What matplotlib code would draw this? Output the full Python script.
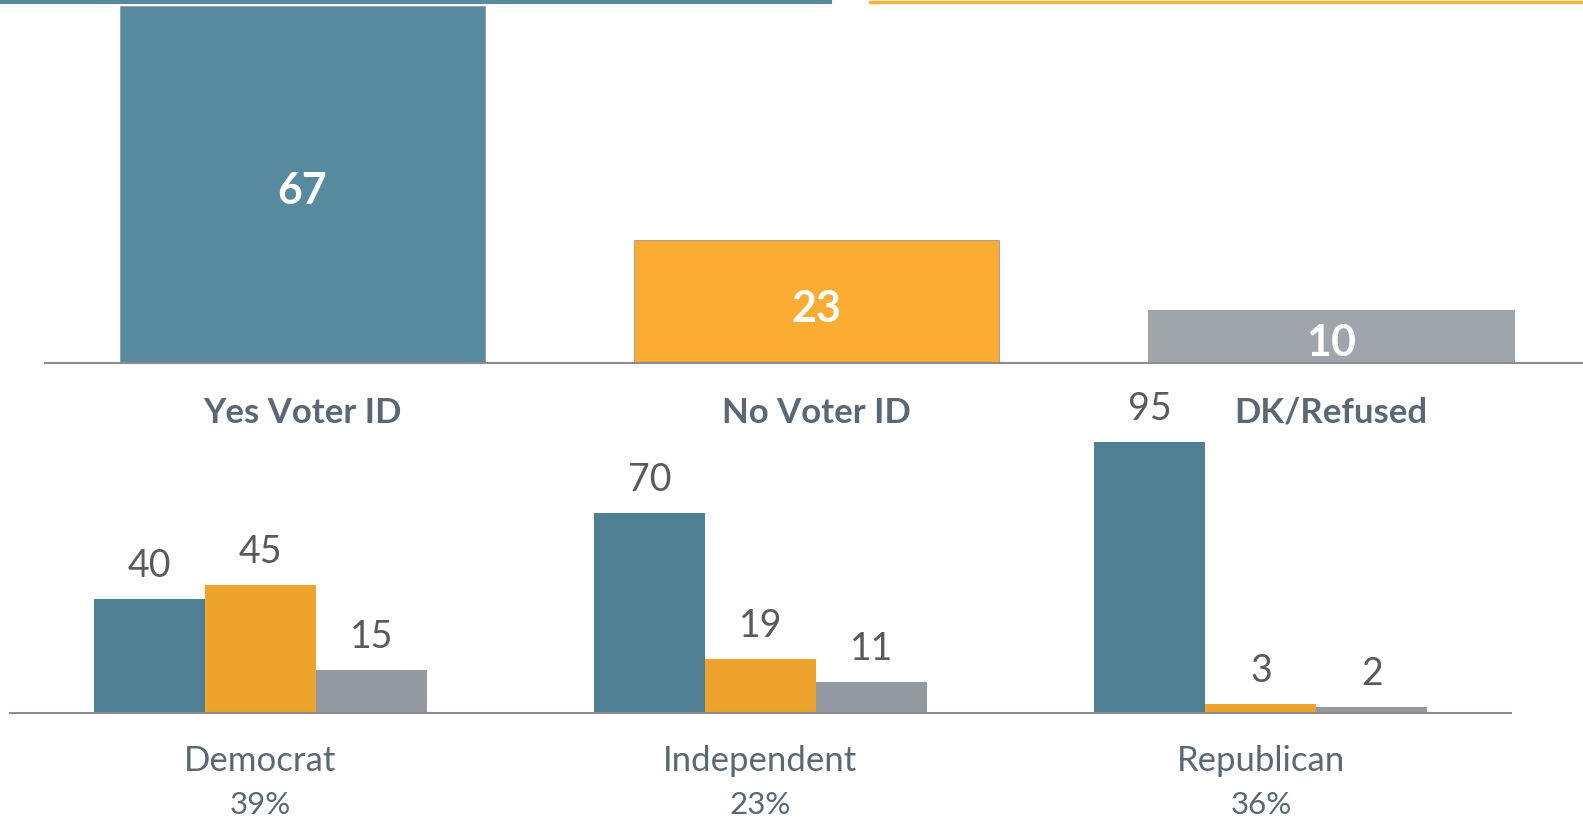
import matplotlib.pyplot as plt
from matplotlib.lines import Line2D
import numpy as np

plt.rcParams['font.family'] = ['Lato', 'DejaVu Sans']

# overall answer
answers = ['Yes Voter ID', 'No Voter ID', 'DK/Refused']
overall = [67, 23, 10]

# by party
parties = ['Democrat', 'Independent', 'Republican']
party_share = ['39%', '23%', '36%']
yes_vals = [40, 70, 95]
no_vals = [45, 19, 3]
dk_vals = [15, 11, 2]

top_colors = ['#578a9f', '#fbad33', '#a0a4ab']
bot_colors = ['#4f7f93', '#eea32c', '#9498a0']
label_col = '#5a6775'
num_col = '#5d5859'
axis_col = '#8c8c8c'

W, H = 1583, 818
fig = plt.figure(figsize=(W / 100, H / 100), dpi=100)

# top panel
ax1 = fig.add_axes([45 / W, (H - 363) / H, 1538 / W, 363 / H])
x = np.arange(len(answers))
ax1.bar(x, overall, width=0.71, color=top_colors, edgecolor='#9a9a9a', linewidth=0.6)
ax1.set_xlim(-0.5, 2.49)
ax1.set_ylim(0, 68.1)
for i, v in enumerate(overall):
    ax1.annotate(str(v), (x[i], v / 2), xytext=(0, -7), textcoords='offset pixels',
                 ha='center', va='center', color='white', fontsize=31, fontweight='bold')
    ax1.annotate(answers[i], (x[i], 0), xycoords='data', xytext=(0, -50),
                 textcoords='offset pixels', ha='center', va='center',
                 color=label_col, fontsize=25, fontweight='bold', annotation_clip=False)

# bottom panel
ax2 = fig.add_axes([10 / W, (H - 713) / H, 1501 / W, 293 / H])
xb = np.arange(len(parties))
bw = 0.222
for off, vals, c in zip([-bw, 0, bw], [yes_vals, no_vals, dk_vals], bot_colors):
    ax2.bar(xb + off, vals, width=bw, color=c)
    for i, v in enumerate(vals):
        ax2.annotate(str(v), (xb[i] + off, v), xytext=(0, 33), textcoords='offset pixels',
                     ha='center', va='center', color=num_col, fontsize=27,
                     annotation_clip=False)
ax2.set_xlim(-0.5, 2.5)
ax2.set_ylim(0, 102.7)
for i, p in enumerate(parties):
    ax2.annotate(p, (xb[i], 0), xytext=(0, -48), textcoords='offset pixels',
                 ha='center', va='center', color=label_col, fontsize=25, annotation_clip=False)
    ax2.annotate(party_share[i], (xb[i], 0), xytext=(0, -92), textcoords='offset pixels',
                 ha='center', va='center', color=label_col, fontsize=22.5, annotation_clip=False)

for ax in (ax1, ax2):
    for s in ['top', 'right', 'left']:
        ax.spines[s].set_visible(False)
    ax.spines['bottom'].set_color(axis_col)
    ax.spines['bottom'].set_linewidth(1.5)
    ax.set_xticks([])
    ax.set_yticks([])
    ax.patch.set_alpha(0)

# header rules at the very top
fig.add_artist(Line2D([0, 830 / W], [1 - 1.5 / H] * 2, color='#578a9f', lw=3))
fig.add_artist(Line2D([870 / W, 1], [1 - 1.5 / H] * 2, color='#fbb03b', lw=2.5))

fig.savefig('out.png', dpi=100)
